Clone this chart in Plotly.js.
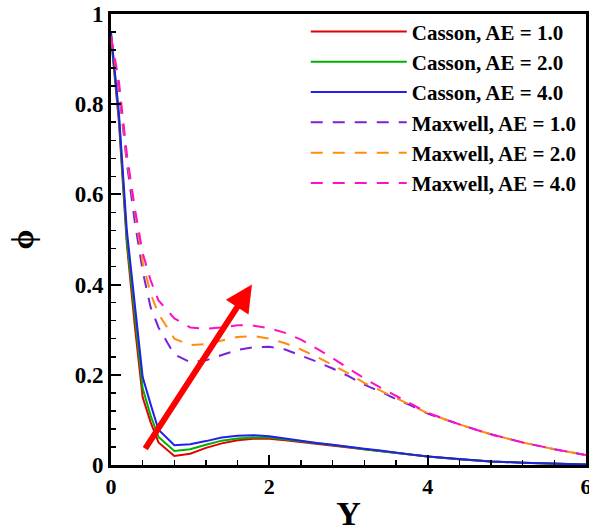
<!DOCTYPE html>
<html>
<head>
<meta charset="utf-8">
<script src="https://cdn.plot.ly/plotly-3.0.1.min.js"></script>
<style>html,body{margin:0;padding:0;background:#fff;}#chart{width:589px;height:532px;}</style>
</head>
<body>
<div id="chart"></div>
<script>
// ---- data ----
const Y = [0, 0.1, 0.2, 0.3, 0.4, 0.5, 0.6, 0.8, 1.0, 1.2, 1.4, 1.6, 1.8, 2.0, 2.2, 2.4, 2.6, 2.8, 3.0, 3.2, 3.4, 3.6, 3.8, 4.0, 4.4, 4.8, 5.2, 5.6, 6.0];

const cassonAE1 = [0.95, 0.76, 0.49, 0.31, 0.15, 0.095, 0.05, 0.020, 0.025, 0.038, 0.048, 0.055, 0.058, 0.058, 0.055, 0.051, 0.047, 0.043, 0.039, 0.035, 0.031, 0.027, 0.023, 0.019, 0.013, 0.008, 0.005, 0.003, 0.001];
const cassonAE2 = [0.955, 0.77, 0.50, 0.33, 0.17, 0.11, 0.062, 0.031, 0.035, 0.045, 0.054, 0.059, 0.061, 0.061, 0.057, 0.052, 0.048, 0.044, 0.040, 0.035, 0.031, 0.027, 0.023, 0.019, 0.013, 0.008, 0.005, 0.003, 0.001];
const cassonAE4 = [0.96, 0.78, 0.52, 0.35, 0.195, 0.135, 0.078, 0.044, 0.046, 0.053, 0.061, 0.065, 0.066, 0.064, 0.059, 0.053, 0.049, 0.045, 0.040, 0.036, 0.032, 0.027, 0.023, 0.019, 0.013, 0.008, 0.005, 0.003, 0.001];

const maxwellAE1 = [0.95, 0.83, 0.67, 0.54, 0.43, 0.35, 0.305, 0.245, 0.228, 0.232, 0.244, 0.255, 0.261, 0.262, 0.256, 0.243, 0.229, 0.214, 0.197, 0.178, 0.163, 0.146, 0.131, 0.114, 0.090, 0.068, 0.050, 0.035, 0.022];
const maxwellAE2 = [0.95, 0.84, 0.68, 0.56, 0.45, 0.38, 0.335, 0.280, 0.266, 0.268, 0.276, 0.284, 0.286, 0.280, 0.270, 0.256, 0.240, 0.222, 0.203, 0.182, 0.165, 0.148, 0.132, 0.115, 0.090, 0.068, 0.050, 0.035, 0.022];
const maxwellAE4 = [0.95, 0.85, 0.69, 0.57, 0.47, 0.41, 0.365, 0.325, 0.305, 0.302, 0.305, 0.310, 0.309, 0.303, 0.293, 0.278, 0.258, 0.237, 0.214, 0.192, 0.172, 0.153, 0.134, 0.116, 0.090, 0.068, 0.050, 0.035, 0.022];

const seriesNames = ["Casson, AE = 1.0", "Casson, AE = 2.0", "Casson, AE = 4.0", "Maxwell, AE = 1.0", "Maxwell, AE = 2.0", "Maxwell, AE = 4.0"];
const seriesValues = [cassonAE1, cassonAE2, cassonAE4, maxwellAE1, maxwellAE2, maxwellAE4];
const seriesColors = ["#e40000", "#00b000", "#2020e8", "#7a22d8", "#ff8c10", "#ff10c8"];
const seriesDash = ["solid", "solid", "solid", "dash", "dash", "dash"];

const xTicks = [0, 2, 4, 6];
const yTicks = [0, 0.2, 0.4, 0.6, 0.8, 1];

// arrow (increasing AE), data coords
const arrowTail = [0.42, 0.033];
const arrowHead = [1.78, 0.40];

const serif = "Liberation Serif, Times New Roman, serif";

const traces = seriesNames.map((n, i) => ({
  x: Y, y: seriesValues[i], name: n, type: "scatter", mode: "lines",
  line: {color: seriesColors[i], width: 2, dash: seriesDash[i] === "dash" ? "12px,10px" : "solid"}
}));

const layout = {
  width: 589, height: 532,
  margin: {l: 111, r: 3, t: 14, b: 67},
  paper_bgcolor: "#fff", plot_bgcolor: "#fff",
  showlegend: true,
  legend: {
    x: 0.41, y: 1.006, xanchor: "left", yanchor: "top",
    bgcolor: "rgba(0,0,0,0)", borderwidth: 0,
    itemwidth: 96,
    font: {family: serif, size: 21, color: "#000", weight: "bold"}
  },
  xaxis: {
    range: [0, 6], tickvals: xTicks, ticktext: xTicks.map(String),
    ticklabeloverflow: "allow",
    ticks: "inside", ticklen: 10, tickwidth: 2, tickcolor: "#000",
    minor: {dtick: 0.4, ticks: "inside", ticklen: 5, tickwidth: 1.5, tickcolor: "#000"},
    showline: true, mirror: true, linewidth: 3, linecolor: "#000",
    showgrid: false, zeroline: false,
    tickfont: {family: serif, size: 22, color: "#000", weight: "bold"},
    title: {text: "Y", font: {family: serif, size: 34, color: "#000", weight: "bold"}, standoff: 18}
  },
  yaxis: {
    range: [0, 1], tickvals: yTicks, ticktext: ["0", "0.2", "0.4", "0.6", "0.8", "1"],
    ticklabeloverflow: "allow",
    ticks: "inside", ticklen: 10, tickwidth: 2, tickcolor: "#000",
    minor: {dtick: 0.04, ticks: "inside", ticklen: 5, tickwidth: 1.5, tickcolor: "#000"},
    showline: true, mirror: true, linewidth: 3, linecolor: "#000",
    showgrid: false, zeroline: false,
    tickfont: {family: serif, size: 23, color: "#000", weight: "bold"},
    title: {text: "ϕ", font: {family: serif, size: 32, color: "#000", weight: "bold"}, standoff: 32}
  },
  annotations: [{
    x: arrowHead[0], y: arrowHead[1], xref: "x", yref: "y",
    ax: arrowTail[0], ay: arrowTail[1], axref: "x", ayref: "y",
    text: "", showarrow: true, arrowhead: 2, arrowsize: 0.9, arrowwidth: 6, arrowcolor: "#ff0000"
  }]
};

Plotly.newPlot("chart", traces, layout, {displayModeBar: false, staticPlot: true});
</script>
</body>
</html>
